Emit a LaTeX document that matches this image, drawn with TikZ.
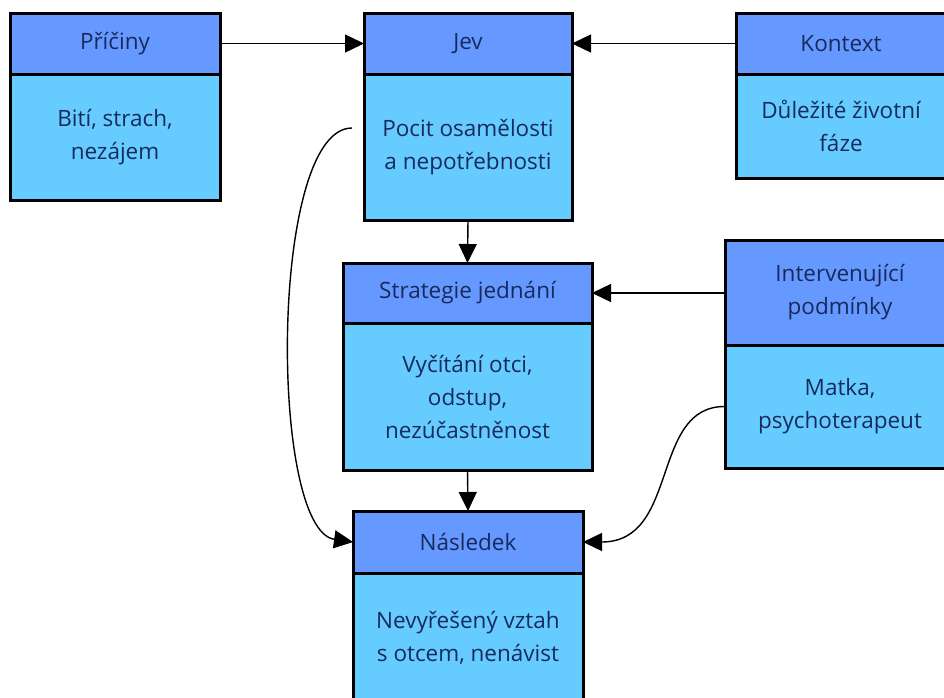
\documentclass[tikz,border=0pt]{standalone}
\usepackage{fontspec}
\setmainfont{Open Sans}
\usetikzlibrary{arrows.meta,positioning,calc}
\definecolor{headblue}{HTML}{6699FF}
\definecolor{bodyblue}{HTML}{66CCFF}
\definecolor{inkblue}{HTML}{172A5C}
\begin{document}
\begin{tikzpicture}[x=1pt,y=-1pt,->,>={Triangle[length=19pt,width=18pt]},
line width=1.4pt, font=\fontsize{22.5}{33}\selectfont]
\tikzstyle{head}=[draw=black, line width=3pt, fill=headblue,
text=inkblue, anchor=north west, inner sep=0pt, outer sep=0pt,
align=center]
\tikzstyle{body}=[head, fill=bodyblue]

\useasboundingbox (0,0) rectangle (944,697);

%top row
\node[head, minimum width=210pt, minimum height=61pt]
(pricinyH) at (10,13) {Příčiny};
\node[body, minimum width=210pt, minimum height=126pt]
(pricinyB) at (pricinyH.south west) {Bití, strach,\\ nezájem};

\node[head, minimum width=208pt, minimum height=61pt]
(jevH) at (364,13) {Jev};
\node[body, minimum width=208pt, minimum height=146pt]
(jevB) at (jevH.south west) {Pocit osamělosti\\ a nepotřebnosti};

\node[head, minimum width=210pt, minimum height=61pt]
(kontextH) at (736,13) {Kontext};
\node[body, minimum width=210pt, minimum height=104pt]
(kontextB) at (kontextH.south west) {Důležité životní\\ fáze};

%middle row
\node[head, minimum width=249pt, minimum height=60pt]
(strategieH) at (343,263) {Strategie jednání};
\node[body, minimum width=249pt, minimum height=147pt]
(strategieB) at (strategieH.south west) {Vyčítání otci,\\ odstup,\\ nezúčastněnost};

\node[head, minimum width=230pt, minimum height=105pt]
(intervH) at (725,240) {Intervenující\\ podmínky};
\node[body, minimum width=230pt, minimum height=123pt]
(intervB) at (intervH.south west) {Matka,\\ psychoterapeut};

%bottom row
\node[head, minimum width=230pt, minimum height=62pt]
(nasledekH) at (353,511) {Následek};
\node[body, minimum width=230pt, minimum height=130pt]
(nasledekB) at (nasledekH.south west) {Nevyřešený vztah\\ s otcem, nenávist};

%straight connectors
\draw (pricinyH.east) -- (jevH.west);
\draw (kontextH.west) -- (jevH.east);
\draw (jevB.south) -- (strategieH.north);
\draw (intervH.west |- strategieH.east) -- (strategieH.east);
\draw (strategieB.south) -- (nasledekH.north);

%curved connectors
\coordinate (jevtail) at (352,128);
\draw (jevtail) .. controls (269,128) and (269,530) .. (nasledekH.west);
\draw (intervB.west) .. controls (650,406) and (680,542) .. (nasledekH.east);
\end{tikzpicture}
\end{document}
